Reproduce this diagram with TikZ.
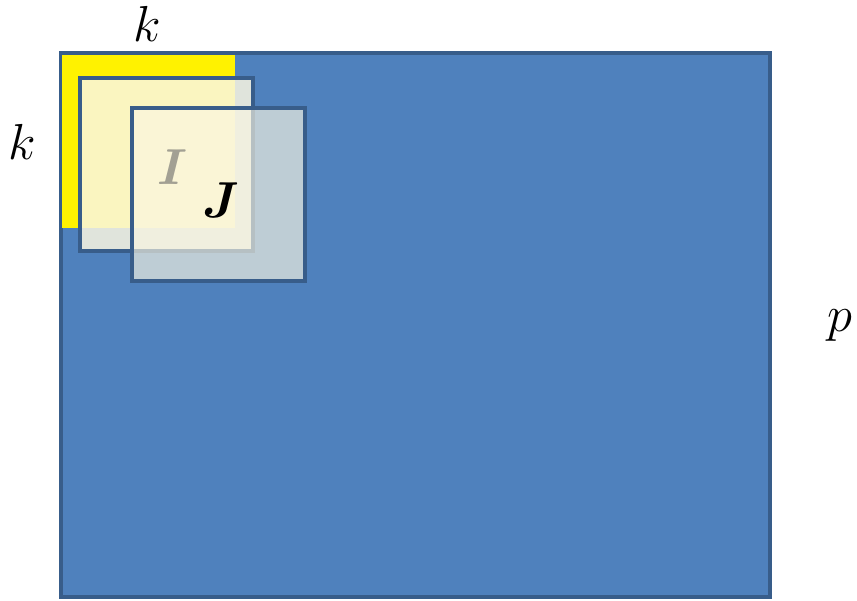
\documentclass[tikz,border=0pt]{standalone}
\usepackage{amsmath,bm}
\usepackage{tikz}
\definecolor{boardblue}{RGB}{79,129,189}
\definecolor{edgeblue}{RGB}{56,93,138}
\definecolor{winfill}{RGB}{250,246,226}
\begin{document}
\begin{tikzpicture}[x=0.1mm, y=-0.1mm, line width=0.9pt]
    \def\bxL{61}    % left of the board
    \def\bxR{770}   % right of the board
    \def\byT{53}    % top of the board
    \def\byB{597}   % bottom of the board
    \def\kSide{173} % side of a window

    \useasboundingbox (0,0) rectangle (857,600);

    % Board
    \filldraw[fill=boardblue, draw=edgeblue] (\bxL, \byT) rectangle (\bxR, \byB);

    % First window (yellow)
    \fill[yellow] (\bxL+1, \byT+2) rectangle (\bxL+1+\kSide, \byT+2+\kSide);

    % Window I
    \filldraw[fill=winfill, fill opacity=0.85, draw=edgeblue] (80, 78) rectangle (80+\kSide, 78+\kSide);
    \node[font=\Large] (labI) at (172, 167) {$\bm{I}$};

    % Window J
    \filldraw[fill=winfill, fill opacity=0.65, draw=edgeblue] (132, 108) rectangle (132+\kSide, 108+\kSide);
    \node[font=\Large] (labJ) at (221, 200) {$\bm{J}$};

    % Sizes
    \node[font=\Large] (kTop) at (147, 24) {$k$};
    \node[font=\Large] (kLeft) at (22, 142) {$k$};
    \node[font=\Large] (pRight) at (840, 326) {$p$};
\end{tikzpicture}
\end{document}
